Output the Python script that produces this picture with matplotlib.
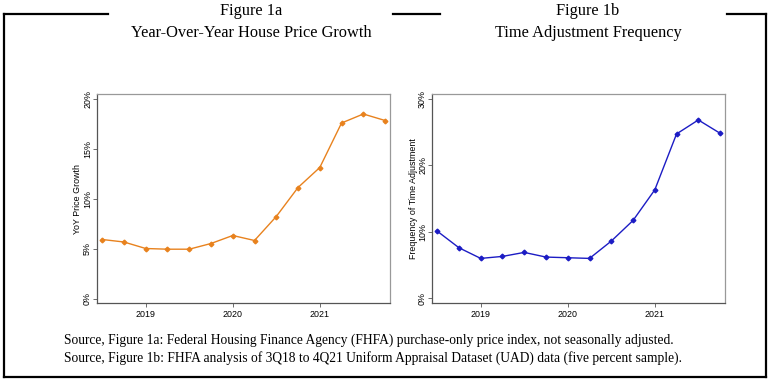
import numpy as np
import matplotlib.pyplot as plt
from matplotlib.lines import Line2D
from matplotlib.ticker import FuncFormatter

# quarters 3Q18 .. 4Q21
quarters = ["3Q18", "4Q18", "1Q19", "2Q19", "3Q19", "4Q19", "1Q20", "2Q20",
            "3Q20", "4Q20", "1Q21", "2Q21", "3Q21", "4Q21"]
yoy_growth = [5.9, 5.65, 5.0, 4.93, 4.93, 5.5, 6.3, 5.8,
              8.2, 11.1, 13.1, 17.55, 18.45, 17.8]
time_adj_freq = [10.1, 7.6, 6.0, 6.3, 6.9, 6.2, 6.1, 6.0,
                 8.6, 11.7, 16.3, 24.7, 26.8, 24.8]
year_ticks = [2019, 2020, 2021]

x = np.array([2000 + int(q[2:]) + (int(q[0]) - 1) / 4 for q in quarters])

W, H = 770, 382
fig = plt.figure(figsize=(W / 100, H / 100), dpi=100)
fig.patch.set_facecolor("white")

serif = "Liberation Serif"
sans = "Liberation Sans"


def px(x0, y0):
    return x0 / W, 1 - y0 / H


# outer frame with gaps for the titles
frame = [
    ([4, 4], [14, 377]), ([4, 766], [377, 377]), ([766, 766], [14, 377]),
    ([4, 108], [14, 14]), ([393, 440], [14, 14]), ([727, 766], [14, 14]),
]
for xs, ys in frame:
    fig.add_artist(Line2D([v / W for v in xs], [1 - v / H for v in ys],
                          color="black", lw=1.6, solid_capstyle="projecting"))

fig.text(*px(251, 11), "Figure 1a", ha="center", va="center", family=serif, fontsize=11.8)
fig.text(*px(251, 33), "Year-Over-Year House Price Growth", ha="center", va="center",
         family=serif, fontsize=11.8)
fig.text(*px(588, 11), "Figure 1b", ha="center", va="center", family=serif, fontsize=11.8)
fig.text(*px(588, 33), "Time Adjustment Frequency", ha="center", va="center",
         family=serif, fontsize=11.8)

fig.text(*px(64, 340), "Source, Figure 1a: Federal Housing Finance Agency (FHFA) purchase-only price index, not seasonally adjusted.",
         ha="left", va="center", family=serif, fontsize=9.75)
fig.text(*px(64, 358), "Source, Figure 1b: FHFA analysis of 3Q18 to 4Q21 Uniform Appraisal Dataset (UAD) data (five percent sample).",
         ha="left", va="center", family=serif, fontsize=9.75)

panels = [
    (97.3, yoy_growth, "#E8821E", "YoY Price Growth", (-0.45, 20.45), [0, 5, 10, 15, 20], -0.052),
    (432.3, time_adj_freq, "#1C1CC4", "Frequency of Time Adjustment", (-0.7, 30.7), [0, 10, 20, 30], -0.049),
]
top, bottom, wpx = 94, 303, 293
for left, vals, col, ylab, ylim, yt, labx in panels:
    ax = fig.add_axes([left / W, 1 - bottom / H, wpx / W, (bottom - top) / H])
    ax.plot(x, vals, color=col, lw=1.0, marker="D", ms=2.4, mec=col, mfc=col)
    ax.set_xlim(2018.444, 2021.81)
    ax.set_ylim(*ylim)
    ax.set_xticks(year_ticks)
    ax.set_xticklabels([str(y) for y in year_ticks], family=sans, fontsize=6.4)
    ax.set_yticks(yt)
    ax.yaxis.set_major_formatter(FuncFormatter(lambda v, p: f"{v:.0f}%"))
    for lab in ax.get_yticklabels():
        lab.set_family(sans)
        lab.set_fontsize(6.4)
        lab.set_rotation(90)
        lab.set_va("center")
    ax.tick_params(axis="x", length=3, width=0.6, color="#555555", pad=2)
    ax.tick_params(axis="y", length=3, width=0.6, color="#555555", pad=0.8)
    ax.set_ylabel(ylab, family=sans, fontsize=6.4)
    ax.yaxis.set_label_coords(labx, 0.5)
    for s in ["left", "bottom"]:
        ax.spines[s].set_color("#555555")
        ax.spines[s].set_linewidth(0.9)
    for s in ["top", "right"]:
        ax.spines[s].set_color("#999999")
        ax.spines[s].set_linewidth(0.9)

fig.savefig("out.png", dpi=100)
